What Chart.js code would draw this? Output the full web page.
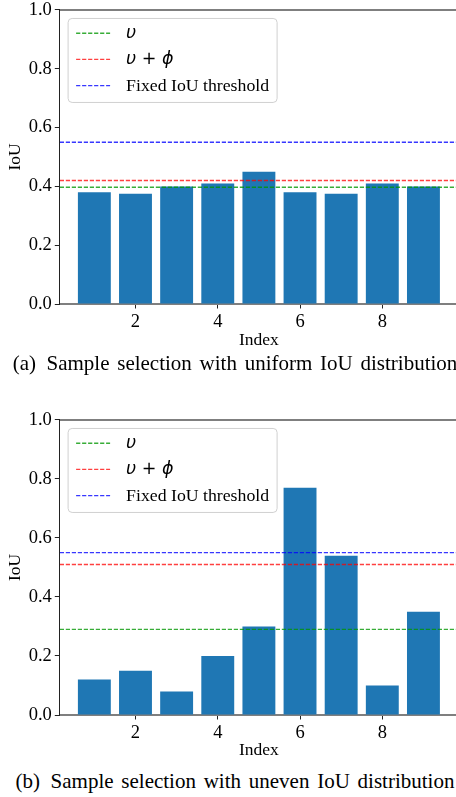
<!DOCTYPE html>
<html><head><meta charset="utf-8">
<script src="https://cdn.jsdelivr.net/npm/chart.js@4/dist/chart.umd.min.js"></script>
<style>
html,body{margin:0;padding:0;background:#fff;}
body{width:456px;height:797px;overflow:hidden;position:relative;}
canvas{position:absolute;left:0;}
#c1{top:0;}
#c2{top:410px;}
.cap{position:absolute;left:0;width:470px;text-align:center;font-family:"Liberation Serif","Times New Roman",serif;font-size:21px;line-height:24px;color:#000;white-space:nowrap;word-spacing:2.5px;}
#capA{top:351px;}
#capB{top:769px;}
</style></head><body>
<canvas id="c1" width="470" height="352"></canvas>
<canvas id="c2" width="470" height="352"></canvas>
<div class="cap" id="capA">(a)&ensp;Sample selection with uniform IoU distribution</div>
<div class="cap" id="capB">(b)&ensp;Sample selection with uneven IoU distribution</div>
<script>
// ---- data ----
const indices = [1, 2, 3, 4, 5, 6, 7, 8, 9];
const iouUniform = [0.38, 0.375, 0.40, 0.41, 0.45, 0.38, 0.375, 0.41, 0.40];
const iouUneven = [0.12, 0.15, 0.08, 0.20, 0.30, 0.77, 0.54, 0.10, 0.35];
const upsilon = [0.397, 0.29];          // (a), (b)
const upsilonPlusPhi = [0.42, 0.51];    // (a), (b)
const fixedThreshold = [0.55, 0.55];    // (a), (b)
const legendLabels = ['υ', 'υ + ϕ', 'Fixed IoU threshold'];
const xTickLabels = [2, 4, 6, 8];
const yTickLabels = [0, 0.2, 0.4, 0.6, 0.8, 1.0];
const xLimits = [0.16, 9.84];
const yLimits = [0, 1];

const SERIF = '"Liberation Serif", "Times New Roman", serif';
const lineColors = ['rgba(0,150,0,0.78)', 'rgba(255,0,0,0.75)', 'rgba(0,0,255,0.78)'];

const boxLegend = {
  id: 'boxLegend',
  afterDatasetsDraw(chart) {
    const ctx = chart.ctx, a = chart.chartArea;
    const items = chart.data.datasets.filter(d => d.type === 'line');
    const bx = a.left + 8.3, by = a.top + 8.5, bw = 209, bh = 84, r = 4;
    ctx.save();
    ctx.beginPath();
    ctx.moveTo(bx + r, by);
    ctx.lineTo(bx + bw - r, by); ctx.quadraticCurveTo(bx + bw, by, bx + bw, by + r);
    ctx.lineTo(bx + bw, by + bh - r); ctx.quadraticCurveTo(bx + bw, by + bh, bx + bw - r, by + bh);
    ctx.lineTo(bx + r, by + bh); ctx.quadraticCurveTo(bx, by + bh, bx, by + bh - r);
    ctx.lineTo(bx, by + r); ctx.quadraticCurveTo(bx, by, bx + r, by);
    ctx.closePath();
    ctx.fillStyle = 'rgba(255,255,255,0.8)';
    ctx.fill();
    ctx.lineWidth = 1;
    ctx.strokeStyle = '#d0d0d0';
    ctx.stroke();
    items.forEach((d, i) => {
      const y = by + 14.8 + 26.2 * i;
      ctx.beginPath();
      ctx.strokeStyle = d.borderColor;
      ctx.lineWidth = d.borderWidth;
      ctx.setLineDash(d.borderDash);
      ctx.moveTo(bx + 8, y); ctx.lineTo(bx + 42, y);
      ctx.stroke();
      ctx.setLineDash([]);
      const greek = /[^\x00-\x7f]/.test(d.label);
      ctx.font = greek ? 'italic 17.5px "DejaVu Sans"' : '17.75px ' + SERIF;
      ctx.fillStyle = '#000';
      ctx.textBaseline = 'middle';
      ctx.textAlign = 'left';
      ctx.fillText(d.label, bx + 58, y + (greek ? 0 : 0.5));
    });
    ctx.restore();
  }
};

const frame = {
  id: 'frame',
  afterDraw(chart) {
    const ctx = chart.ctx, a = chart.chartArea;
    ctx.save();
    ctx.strokeStyle = 'rgba(0,0,0,0.5)';
    ctx.lineWidth = 2;
    ctx.beginPath();
    ctx.moveTo(a.left, a.top); ctx.lineTo(a.right, a.top);
    ctx.moveTo(a.right, a.top); ctx.lineTo(a.right, a.bottom);
    ctx.stroke();
    ctx.restore();
  }
};

function makeChart(id, values, k, xAxisHeight) {
  const thresholds = [upsilon[k], upsilonPlusPhi[k], fixedThreshold[k]];
  const datasets = [{
    type: 'bar',
    label: 'IoU',
    data: indices.map((x, i) => ({x: x, y: values[i]})),
    backgroundColor: '#1f77b4',
    borderWidth: 0,
    barPercentage: 0.8,
    categoryPercentage: 1.0,
    order: 2
  }];
  thresholds.forEach((v, i) => {
    datasets.push({
      type: 'line',
      label: legendLabels[i],
      data: xLimits.map(x => ({x: x, y: v})),
      borderColor: lineColors[i],
      borderWidth: 1.3,
      borderDash: [4.2, 1.8],
      pointRadius: 0,
      fill: false,
      order: 1
    });
  });
  return new Chart(document.getElementById(id), {
    type: 'bar',
    data: {datasets: datasets},
    plugins: [boxLegend, frame],
    options: {
      responsive: false,
      animation: false,
      devicePixelRatio: 1,
      events: [],
      layout: {padding: {top: 7.5, left: 0, right: 12, bottom: 0}},
      plugins: {legend: {display: false}, tooltip: {enabled: false}},
      scales: {
        x: {
          type: 'linear',
          min: xLimits[0], max: xLimits[1],
          offset: false,
          afterBuildTicks: s => { s.ticks = xTickLabels.map(v => ({value: v})); },
          afterFit: s => { s.height = xAxisHeight; },
          ticks: {color: '#000', font: {family: SERIF, size: 18.5, lineHeight: 1.2}, padding: 3,
                  callback: v => String(v), maxRotation: 0, autoSkip: false},
          grid: {drawOnChartArea: false, drawTicks: true, tickLength: 4.5, tickColor: '#222', tickWidth: 1, offset: false},
          border: {display: true, color: 'rgba(0,0,0,0.5)', width: 2},
          title: {display: true, text: 'Index', color: '#000', font: {family: SERIF, size: 17.5, lineHeight: 1.2}, padding: {top: 0, bottom: 0.6}}
        },
        y: {
          type: 'linear',
          min: yLimits[0], max: yLimits[1],
          afterBuildTicks: s => { s.ticks = yTickLabels.map(v => ({value: v})); },
          afterFit: s => { s.width = 59.8; },
          ticks: {color: '#000', font: {family: SERIF, size: 18.5, lineHeight: 0.75}, padding: 3,
                  callback: v => Number(v).toFixed(1)},
          grid: {drawOnChartArea: false, drawTicks: true, tickLength: 5, tickColor: '#222', tickWidth: 1},
          border: {display: true, color: '#222', width: 1},
          title: {display: true, text: 'IoU', color: '#000', font: {family: SERIF, size: 17.5, lineHeight: 1.2}, padding: {top: 4.5, bottom: 0}}
        }
      }
    }
  });
}

makeChart('c1', iouUniform, 0, 48);
makeChart('c2', iouUneven, 1, 47);
</script>
</body></html>
